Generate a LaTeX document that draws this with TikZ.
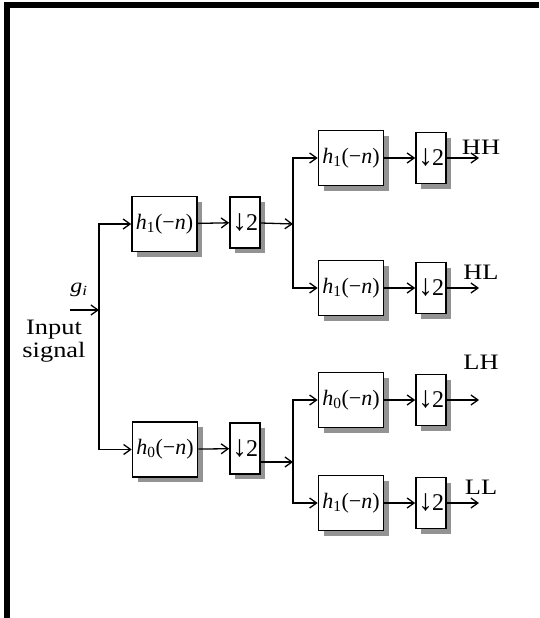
\documentclass[tikz,border=0pt]{standalone}
\usepackage{fontspec}
\setmainfont{Liberation Serif}
\usetikzlibrary{arrows.meta,shadows}

\newcommand{\hfn}[1]{\textit{h}\textsubscript{#1}(−\textit{n})}
\newcommand{\dtwo}{{\fontsize{30}{30}\selectfont ↓}\kern-1pt 2}
\newcommand{\wide}[1]{\scalebox{1.2}[1]{#1}}

\tikzset{
  fltbox/.style={draw, line width=1.6pt, fill=white, inner sep=0pt,
    minimum width=65pt, minimum height=55pt,
    font=\fontsize{22}{22}\selectfont,
    drop shadow={shadow xshift=5pt, shadow yshift=-5pt, fill=gray!85, opacity=1}},
  downbox/.style={fltbox, minimum width=30pt, minimum height=51pt,
    font=\fontsize{24}{24}\selectfont},
  sig/.style={line width=1.3pt, -{Straight Barb[length=7pt,width=10pt]}},
  lbl/.style={font=\fontsize{22}{23}\selectfont, inner sep=0pt},
}

\begin{document}
\begin{tikzpicture}[x=1pt,y=-1pt]
  \useasboundingbox (0,0) rectangle (539,618);
  % frame
  \fill (4,2) rectangle (539,8);
  \fill (4,2) rectangle (10,618);

  % input
  \coordinate (in) at (70,310);
  \coordinate (j0) at (99,310);
  \node[lbl, font=\fontsize{20}{20}\selectfont] at (79,290) {\wide{\textit{g}\textsubscript{\textit{i}}}};
  \node[lbl, align=center] at (54,341) {\wide{Input}\\\wide{signal}};

  % first level
  \node[fltbox] (f1) at (164.5,224) {\hfn{1}};
  \node[downbox] (d1) at (245,222.5) {\dtwo};
  \node[fltbox] (f0) at (165,449.5) {\hfn{0}};
  \node[downbox] (d0) at (245,448.5) {\dtwo};
  \coordinate (j1) at (293,224);
  \coordinate (j2) at (293,462);

  \draw[sig] (in) -- (j0);
  \draw[sig] (j0) |- (f1);
  \draw[sig] (j0) |- (f0);
  \draw[sig] (f1) -- (d1);
  \draw[sig] (f0) -- (d0);
  \draw[sig] (d1) -- (j1);
  \draw[sig] (d0.east |- j2) -- (j2);

  % second level
  \foreach \nm/\yy/\k/\lab/\ly in {hh/158/1/HH/147, hl/288/1/HL/272, lh/400/0/LH/362, ll/503/1/LL/487} {
    \node[fltbox] (f\nm) at (351,\yy) {\hfn{\k}};
    \node[downbox] (d\nm) at (431,\yy) {\dtwo};
    \coordinate (o\nm) at (479,\yy);
    \draw[sig] (f\nm) -- (d\nm);
    \draw[sig] (d\nm) -- (o\nm);
    \node[lbl] at (481,\ly) {\wide{\lab}};
  }

  \draw[sig] (j1) |- (fhh);
  \draw[sig] (j1) |- (fhl);
  \draw[sig] (j2) |- (flh);
  \draw[sig] (j2) |- (fll);
\end{tikzpicture}
\end{document}
